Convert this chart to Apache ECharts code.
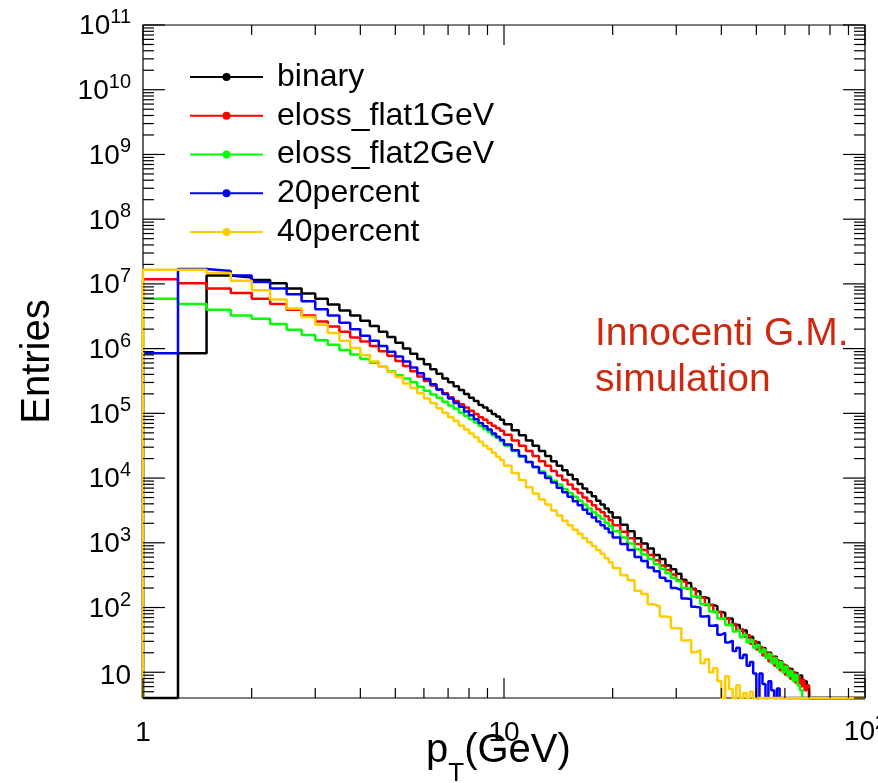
<!DOCTYPE html>
<html>
<head>
<meta charset="utf-8">
<script src="https://cdn.jsdelivr.net/npm/echarts@6/dist/echarts.min.js"></script>
<style>
  html, body { margin: 0; padding: 0; background: #ffffff; }
  #chart { width: 878px; height: 783px; }
</style>
</head>
<body>
<div id="chart"></div>
<script>
// pT spectra of five energy-loss scenarios, drawn as step histograms on log-log axes.
const FONT = "'Liberation Sans', Arial, Helvetica, sans-serif";
const X_MIN = 1, X_MAX = 100;
const Y_MIN = 4, Y_MAX = 1e11;

// Histogram binning (GeV): fine bins at low pT, wider ones in the tail.
const binSegments = [
  { from: 1, to: 10, width: 0.25 },
  { from: 10, to: 20, width: 0.5 },
  { from: 20, to: 80, width: 1 }
];

const seriesNames = ['binary', 'eloss_flat1GeV', 'eloss_flat2GeV', '20percent', '40percent'];
const seriesColors = ['#000000', '#ff0000', '#00ff00', '#0000ff', '#ffcc00'];

// log10(entries) per bin, in bin order; null = empty bin; bins past the end of a list are empty.
const binaryLog10 = [
  null, 5.93, 7.13, 7.10, 7.06, 7.01, 6.93, 6.85, 6.77, 6.68, 6.59, 6.51,
  6.43, 6.35, 6.26, 6.18, 6.09, 6.00, 5.92, 5.84, 5.76, 5.68, 5.61, 5.54,
  5.48, 5.42, 5.36, 5.30, 5.24, 5.19, 5.13, 5.09, 5.04, 4.99, 4.95, 4.90,
  4.83, 4.74, 4.66, 4.58, 4.50, 4.42, 4.34, 4.26, 4.19, 4.12,
  4.05, 3.98, 3.91, 3.84, 3.78, 3.72, 3.65, 3.59, 3.53, 3.47,
  3.39, 3.28, 3.18, 3.07, 2.99, 2.91, 2.81, 2.75, 2.65, 2.59,
  2.52, 2.43, 2.38, 2.29, 2.25, 2.16, 2.14, 2.04, 2.02, 1.93,
  1.92, 1.83, 1.83, 1.73, 1.73, 1.64, 1.65, 1.54, 1.55, 1.44,
  1.47, 1.35, 1.38, 1.25, 1.30, 1.17, 1.24, 1.10, 1.17, 1.03,
  1.10, 0.96, 1.05, 0.90, 0.99, 0.84, 0.95, 0.80, 0.86, 0.74
];
const elossFlat1Log10 = [
  7.07, 7.01, 6.93, 6.86, 6.77, 6.69, 6.60, 6.51, 6.42, 6.34, 6.26, 6.17,
  6.11, 6.04, 5.96, 5.89, 5.81, 5.73, 5.65, 5.57, 5.50, 5.43, 5.37, 5.31,
  5.25, 5.19, 5.14, 5.09, 5.04, 4.99, 4.94, 4.90, 4.85, 4.81, 4.77, 4.73,
  4.67, 4.58, 4.50, 4.42, 4.34, 4.26, 4.19, 4.11, 4.04, 3.97,
  3.90, 3.83, 3.77, 3.70, 3.64, 3.58, 3.52, 3.47, 3.41, 3.35,
  3.27, 3.17, 3.07, 2.98, 2.89, 2.81, 2.73, 2.65, 2.58, 2.51,
  2.42, 2.39, 2.29, 2.27, 2.16, 2.15, 2.04, 2.04, 1.93, 1.93,
  1.83, 1.84, 1.73, 1.75, 1.64, 1.67, 1.55, 1.58, 1.44, 1.48,
  1.35, 1.39, 1.26, 1.31, 1.17, 1.24, 1.10, 1.18, 1.03, 1.12,
  0.96, 1.06, 0.90, 1.00, 0.84, 0.94, 0.78, 0.88, 0.72, 0.80
];
const elossFlat2Log10 = [
  6.77, 6.69, 6.60, 6.51, 6.46, 6.38, 6.29, 6.21, 6.13, 6.06, 5.98, 5.91,
  5.84, 5.78, 5.72, 5.65, 5.59, 5.54, 5.48, 5.41, 5.35, 5.29, 5.24, 5.18,
  5.12, 5.07, 5.01, 4.96, 4.91, 4.86, 4.81, 4.76, 4.71, 4.66, 4.62, 4.57,
  4.50, 4.42, 4.33, 4.25, 4.17, 4.10, 4.03, 3.96, 3.90, 3.83,
  3.77, 3.71, 3.65, 3.59, 3.53, 3.47, 3.42, 3.37, 3.31, 3.26,
  3.18, 3.08, 2.99, 2.90, 2.82, 2.75, 2.67, 2.60, 2.53, 2.46,
  2.41, 2.30, 2.29, 2.17, 2.17, 2.05, 2.05, 1.94, 1.94, 1.83,
  1.84, 1.73, 1.74, 1.63, 1.66, 1.54, 1.58, 1.46, 1.50, 1.38,
  1.42, 1.31, 1.35, 1.22, 1.28, 1.14, 1.22, 1.07, 1.16, 1.00,
  1.09, 0.94, 1.02, 0.87, 0.96, 0.80, 0.72
];
const percent20Log10 = [
  5.93, 7.23, 7.20, 7.13, 7.03, 6.93, 6.84, 6.73, 6.61, 6.51, 6.40, 6.30,
  6.20, 6.12, 6.04, 5.95, 5.88, 5.80, 5.71, 5.62, 5.53, 5.45, 5.37, 5.30,
  5.23, 5.16, 5.10, 5.03, 4.97, 4.91, 4.85, 4.80, 4.75, 4.69, 4.64, 4.59,
  4.52, 4.43, 4.34, 4.25, 4.17, 4.08, 4.00, 3.93, 3.85, 3.78,
  3.71, 3.64, 3.58, 3.51, 3.45, 3.39, 3.33, 3.27, 3.22, 3.16,
  3.08, 2.98, 2.89, 2.78, 2.72, 2.62, 2.56, 2.46, 2.41, 2.30,
  2.27, 2.14, 2.13, 2.01, 2.00, 1.86, 1.87, 1.72, 1.73, 1.58,
  1.61, 1.46, 1.49, 1.33, 1.38, 1.22, 1.27, 1.10, 1.16, 0.98,
  null, 0.98, 0.82, null, 0.86, 0.72, null, 0.75
];
const percent40Log10 = [
  7.22, 7.22, 7.17, 7.05, 6.90, 6.76, 6.62, 6.49, 6.37, 6.24, 6.12, 6.01,
  5.90, 5.80, 5.72, 5.64, 5.56, 5.46, 5.39, 5.31, 5.23, 5.16, 5.08, 5.01,
  4.94, 4.88, 4.81, 4.75, 4.69, 4.63, 4.56, 4.50, 4.45, 4.39, 4.33, 4.28,
  4.19, 4.08, 3.97, 3.86, 3.76, 3.67, 3.59, 3.50, 3.42, 3.34,
  3.27, 3.20, 3.14, 3.07, 3.01, 2.95, 2.89, 2.83, 2.76, 2.70,
  2.61, 2.50, 2.42, 2.26, 2.21, 2.05, 2.02, 1.86, 1.85, 1.68,
  1.68, 1.49, 1.50, 1.31, 1.34, 1.14, 1.20, 1.00, 1.06, 0.86,
  null, 0.94, 0.74, null, 0.80, null, 0.68, null, 0.70
];
const seriesLog10 = [binaryLog10, elossFlat1Log10, elossFlat2Log10, percent20Log10, percent40Log10];

// Axis ticks and labels
const xMajorTicks = [1, 10, 100];
const xMinorTicks = [2, 3, 4, 5, 6, 7, 8, 9, 20, 30, 40, 50, 60, 70, 80, 90];
const yMajorTicks = [1e1, 1e2, 1e3, 1e4, 1e5, 1e6, 1e7, 1e8, 1e9, 1e10, 1e11];
const yMinorMultipliers = [2, 3, 4, 5, 6, 7, 8, 9];
const xLabelValues = [1, 10, 100];
const xLabelTexts = ['1', '10', '10^2'];
const yLabelValues = [1e1, 1e2, 1e3, 1e4, 1e5, 1e6, 1e7, 1e8, 1e9, 1e10, 1e11];
const yLabelTexts = ['10', '10^2', '10^3', '10^4', '10^5', '10^6', '10^7', '10^8', '10^9', '10^10', '10^11'];

// ---- derived structures ----
const binEdges = [binSegments[0].from];
binSegments.forEach(s => {
  const n = Math.round((s.to - s.from) / s.width);
  for (let i = 1; i <= n; i++) binEdges.push(s.from + i * s.width);
});

const yMinorTicks = [];
for (let e = 0; e <= 10; e++) {
  yMinorMultipliers.forEach(m => {
    const v = m * Math.pow(10, e);
    if (v >= Y_MIN && v < Y_MAX) yMinorTicks.push(v);
  });
}

// Outline points of a histogram: empty bins sit on the frame floor.
function histPoints(logValues) {
  const pts = [[binEdges[0], Y_MIN]];
  logValues.forEach((v, i) => {
    pts.push([binEdges[i], v == null ? Y_MIN : Math.pow(10, v)]);
  });
  pts.push([binEdges[logValues.length], Y_MIN]);
  pts.push([X_MAX, Y_MIN]);
  return pts;
}

// Tick label text: base "10" plus an optional raised exponent.
const BASE_FONT = 28, SUP_FONT = 20;
const measureCtx = document.createElement('canvas').getContext('2d');
function textWidth(t, size) {
  measureCtx.font = size + 'px ' + FONT;
  return measureCtx.measureText(t).width;
}
function labelParts(t) {
  const p = t.split('^');
  return { base: p[0], sup: p.length > 1 ? p[1] : '' };
}
function textEl(text, size, x, y, align) {
  return {
    type: 'text', x: x, y: y,
    style: { text: text, fontFamily: FONT, fontSize: size, fill: '#000', align: align, verticalAlign: 'middle' }
  };
}

const lineSeries = seriesNames.map((name, k) => ({
  name: name,
  type: 'line',
  step: 'end',
  data: histPoints(seriesLog10[k]),
  showSymbol: false,
  symbol: 'circle',
  symbolSize: 8,
  clip: false,
  silent: true,
  z: 3 + k,
  itemStyle: { color: seriesColors[k] },
  lineStyle: { color: seriesColors[k], width: 2.5 }
}));

const tickStyle = { stroke: '#000', lineWidth: 1.2 };

const xTickSeries = {
  type: 'custom',
  coordinateSystem: 'cartesian2d',
  silent: true,
  z: 10,
  encode: { x: 0, y: 1 },
  data: xMajorTicks.map(v => [v, Y_MIN, 20]).concat(xMinorTicks.map(v => [v, Y_MIN, 10])),
  renderItem: function (params, api) {
    const x = api.value(0), len = api.value(2);
    const b = api.coord([x, Y_MIN]);
    const t = api.coord([x, Y_MAX]);
    return {
      type: 'group',
      children: [
        { type: 'line', shape: { x1: b[0], y1: b[1], x2: b[0], y2: b[1] - len }, style: tickStyle },
        { type: 'line', shape: { x1: t[0], y1: t[1], x2: t[0], y2: t[1] + len }, style: tickStyle }
      ]
    };
  }
};

const yTickSeries = {
  type: 'custom',
  coordinateSystem: 'cartesian2d',
  silent: true,
  z: 10,
  encode: { x: 0, y: 1 },
  data: yMajorTicks.map(v => [X_MIN, v, 22]).concat(yMinorTicks.map(v => [X_MIN, v, 11])),
  renderItem: function (params, api) {
    const y = api.value(1), len = api.value(2);
    const l = api.coord([X_MIN, y]);
    const r = api.coord([X_MAX, y]);
    return {
      type: 'group',
      children: [
        { type: 'line', shape: { x1: l[0], y1: l[1], x2: l[0] + len, y2: l[1] }, style: tickStyle },
        { type: 'line', shape: { x1: r[0], y1: r[1], x2: r[0] - len, y2: r[1] }, style: tickStyle }
      ]
    };
  }
};

const xLabelSeries = {
  type: 'custom',
  coordinateSystem: 'cartesian2d',
  silent: true,
  z: 10,
  encode: { x: 0, y: 1 },
  data: xLabelValues.map((v, i) => [v, Y_MIN, i]),
  renderItem: function (params, api) {
    const parts = labelParts(xLabelTexts[api.value(2)]);
    const p = api.coord([api.value(0), Y_MIN]);
    if (!parts.sup) {
      return textEl(parts.base, BASE_FONT, p[0], p[1] + 35, 'center');
    }
    const bw = textWidth(parts.base, BASE_FONT);
    const sw = textWidth(parts.sup, SUP_FONT);
    const left = p[0] - (bw + sw) / 2;
    return {
      type: 'group',
      children: [
        textEl(parts.base, BASE_FONT, left, p[1] + 34.5, 'left'),
        textEl(parts.sup, SUP_FONT, left + bw, p[1] + 25.5, 'left')
      ]
    };
  }
};

const yLabelSeries = {
  type: 'custom',
  coordinateSystem: 'cartesian2d',
  silent: true,
  z: 10,
  encode: { x: 0, y: 1 },
  data: yLabelValues.map((v, i) => [X_MIN, v, i]),
  renderItem: function (params, api) {
    const parts = labelParts(yLabelTexts[api.value(2)]);
    const p = api.coord([X_MIN, api.value(1)]);
    const right = p[0] - 12;
    if (!parts.sup) {
      return textEl(parts.base, BASE_FONT, right, p[1] + 3.7, 'right');
    }
    const sw = textWidth(parts.sup, SUP_FONT);
    return {
      type: 'group',
      children: [
        textEl(parts.sup, SUP_FONT, right, p[1] - 7.5, 'right'),
        textEl(parts.base, BASE_FONT, right - sw, p[1] + 1.7, 'right')
      ]
    };
  }
};

const chart = echarts.init(document.getElementById('chart'), null, { renderer: 'canvas' });
chart.setOption({
  animation: false,
  backgroundColor: '#ffffff',
  grid: {
    left: 143, top: 25, width: 722, height: 673,
    show: true, borderColor: '#000000', borderWidth: 1.2, backgroundColor: 'transparent',
    containLabel: false, outerBoundsMode: 'none'
  },
  xAxis: {
    type: 'log', logBase: 10, min: X_MIN, max: X_MAX,
    axisLine: { show: false }, axisTick: { show: false }, axisLabel: { show: false },
    splitLine: { show: false }, minorTick: { show: false }
  },
  yAxis: {
    type: 'log', logBase: 10, min: Y_MIN, max: Y_MAX,
    axisLine: { show: false }, axisTick: { show: false }, axisLabel: { show: false },
    splitLine: { show: false }, minorTick: { show: false }
  },
  legend: {
    orient: 'vertical',
    left: 189, top: 61,
    padding: 0,
    itemGap: 6.75,
    itemWidth: 73,
    itemHeight: 10,
    selectedMode: false,
    data: seriesNames,
    textStyle: { fontFamily: FONT, fontSize: 32, color: '#000', lineHeight: 32, padding: [0, 0, 0, 9] }
  },
  graphic: [
    {
      type: 'text', x: 37.5, y: 361.5, rotation: Math.PI / 2,
      style: { text: 'Entries', fontFamily: FONT, fontSize: 40, fill: '#000', align: 'center', verticalAlign: 'middle' }
    },
    {
      type: 'text', x: 426, y: 731,
      style: {
        text: '{m|p}{s|T}{m|(GeV)}',
        align: 'left', verticalAlign: 'top', fill: '#000',
        rich: {
          m: { fontFamily: FONT, fontSize: 40, lineHeight: 40, verticalAlign: 'top', fill: '#000' },
          s: { fontFamily: FONT, fontSize: 26, lineHeight: 26, verticalAlign: 'top', padding: [30, 0, 0, 0], fill: '#000' }
        }
      }
    },
    {
      type: 'text', x: 595, y: 311,
      style: {
        text: 'Innocenti G.M.\nsimulation',
        fontFamily: FONT, fontSize: 39, lineHeight: 46, fill: '#cc2a10',
        align: 'left', verticalAlign: 'top'
      }
    }
  ],
  series: lineSeries.concat([xTickSeries, yTickSeries, xLabelSeries, yLabelSeries])
});
</script>
</body>
</html>
